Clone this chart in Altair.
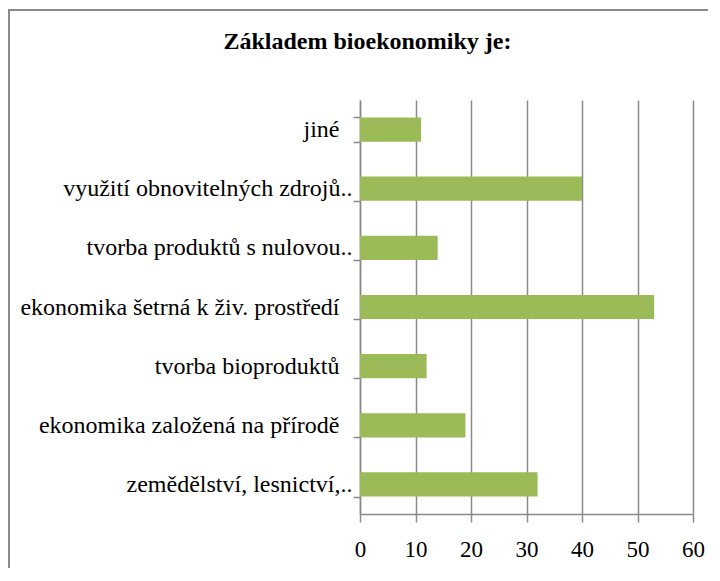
import altair as alt
import pandas as pd

categories = [
    "jiné",
    "využití obnovitelných zdrojů..",
    "tvorba produktů s nulovou..",
    "ekonomika šetrná k živ. prostředí",
    "tvorba bioproduktů",
    "ekonomika založená na přírodě",
    "zemědělství, lesnictví,..",
]
values = [11, 40, 14, 53, 12, 19, 32]
x_ticks = [0, 10, 20, 30, 40, 50, 60]

df = pd.DataFrame({"kategorie": categories, "hodnota": values})

GRAY = "#8a8a8a"
FONT = "Liberation Serif"

bars = alt.Chart(df).mark_bar(color="#9BBB59").encode(
    y=alt.Y(
        "kategorie:N",
        sort=categories,
        scale=alt.Scale(paddingInner=0.59, paddingOuter=0.295),
        axis=alt.Axis(
            title=None,
            domainColor=GRAY,
            domainWidth=1.5,
            tickColor=GRAY,
            tickWidth=1.5,
            tickSize=7,
            tickBand="extent",
            labelFont=FONT,
            labelFontSize=24,
            labelColor="black",
            labelPadding={
                "condition": {"test": "indexof(datum.label, '..') >= 0", "value": 1},
                "value": 14,
            },
            labelLimit=400,
            grid=False,
        ),
    ),
    x=alt.X(
        "hodnota:Q",
        scale=alt.Scale(domain=[0, 60], nice=False),
        axis=alt.Axis(
            title=None,
            values=x_ticks,
            domainColor=GRAY,
            domainWidth=1.5,
            tickColor=GRAY,
            tickWidth=1.5,
            tickSize=8,
            grid=True,
            gridColor=GRAY,
            gridWidth=1.5,
            labelFont=FONT,
            labelFontSize=23,
            labelColor="black",
            labelPadding=16,
            labelFlush=False,
        ),
    ),
)

border = alt.Chart(pd.DataFrame({"a": [0]})).mark_rect(
    filled=False, stroke=GRAY, strokeWidth=2
).encode(
    x=alt.value(-351),
    x2=alt.value(600),
    y=alt.value(-90),
    y2=alt.value(700),
)

chart = alt.layer(border, bars).properties(
    width=333,
    height=414,
    title=alt.TitleParams(
        "Základem bioekonomiky je:",
        font=FONT,
        fontSize=24,
        fontWeight="bold",
        color="black",
        anchor="middle",
        dx=-159,
        offset=0,
        dy=45,
    ),
    autosize=alt.AutoSizeParams(type="none"),
    padding={"left": 352, "top": 92, "right": 15, "bottom": 54},
).configure_view(stroke=None)

chart.save("out.html", embed_options={"renderer": "svg", "actions": False})
